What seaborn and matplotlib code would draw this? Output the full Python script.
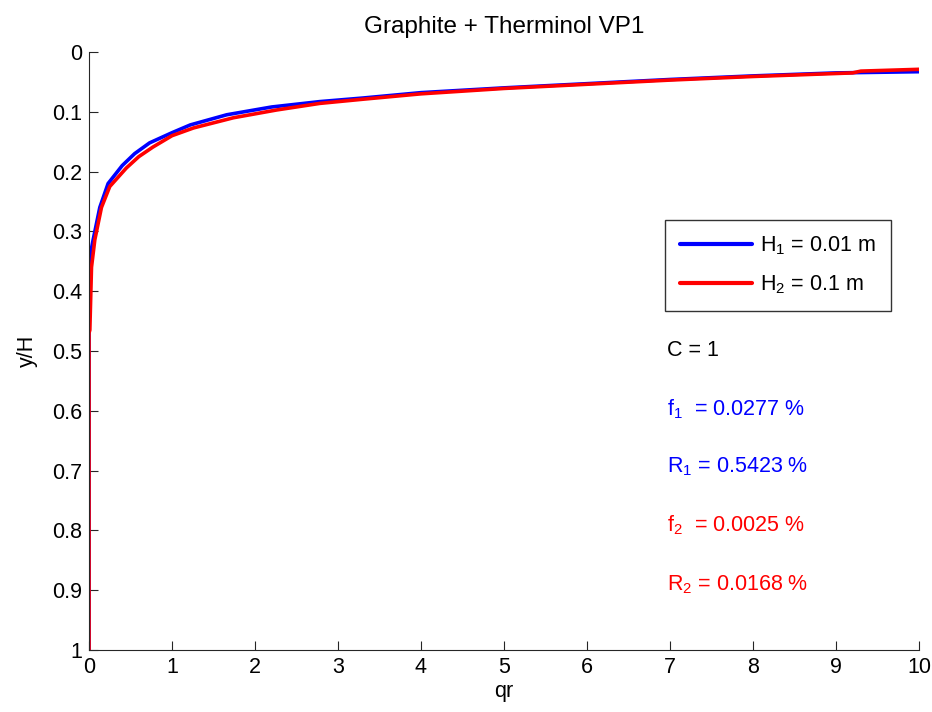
import matplotlib
matplotlib.use("Agg")
import matplotlib.pyplot as plt
import seaborn as sns
import pandas as pd

# Data
qr_h1 = [0, 0, 0.01, 0.05, 0.13, 0.23, 0.40, 0.55, 0.73, 1.0, 1.22, 1.66, 2.2, 2.78,
         3.3, 4.0, 5.0, 6.0, 7.0, 8.0, 9.0, 10.0]
y_h1 = [1, 0.39, 0.343, 0.314, 0.26, 0.22, 0.19, 0.17, 0.152, 0.135, 0.122, 0.105, 0.092,
        0.083, 0.077, 0.068, 0.060, 0.053, 0.046, 0.040, 0.035, 0.033]
qr_h2 = [0, 0, 0.01, 0.03, 0.07, 0.15, 0.25, 0.45, 0.6, 0.77, 1.0, 1.26, 1.74, 2.26,
         2.78, 3.3, 4.0, 5.0, 6.0, 7.0, 8.0, 9.2, 9.3, 10.0]
y_h2 = [1, 0.47, 0.465, 0.36, 0.314, 0.26, 0.225, 0.194, 0.175, 0.159, 0.14, 0.127,
        0.110, 0.097, 0.086, 0.079, 0.070, 0.061, 0.054, 0.047, 0.041, 0.035, 0.032, 0.029]
series_labels = [r"H$_1$ = 0.01 m", r"H$_2$ = 0.1 m"]
series_colors = ["#0000ff", "#ff0000"]
x_ticks = list(range(0, 11))
y_ticks = [0, 0.1, 0.2, 0.3, 0.4, 0.5, 0.6, 0.7, 0.8, 0.9, 1]
y_tick_labels = ["0", "0.1", "0.2", "0.3", "0.4", "0.5", "0.6", "0.7", "0.8", "0.9", "1"]
annotations = [("C = 1", "black"),
               (r"f$_1$  = 0.0277 %", "#0000ff"),
               (r"R$_1$ = 0.5423 %", "#0000ff"),
               (r"f$_2$  = 0.0025 %", "#ff0000"),
               (r"R$_2$ = 0.0168 %", "#ff0000")]
annotation_y = [0.5, 0.597, 0.694, 0.792, 0.89]

FS = 15.5

sns.set_style("white")
plt.rcParams["font.family"] = ["Liberation Sans", "DejaVu Sans"]
plt.rcParams["mathtext.fontset"] = "custom"
plt.rcParams["mathtext.rm"] = "Liberation Sans"
plt.rcParams["mathtext.it"] = "Liberation Sans"
plt.rcParams["text.color"] = "black"
plt.rcParams["axes.labelcolor"] = "black"
plt.rcParams["xtick.color"] = "black"
plt.rcParams["ytick.color"] = "black"

df = pd.concat([
    pd.DataFrame({"qr": qr_h1, "y": y_h1, "series": series_labels[0]}),
    pd.DataFrame({"qr": qr_h2, "y": y_h2, "series": series_labels[1]}),
], ignore_index=True)

fig = plt.figure(figsize=(9.32, 7.12), dpi=100)
ax = fig.add_axes([0.0955, 0.0871, 0.8905, 0.8399])

sns.lineplot(data=df, x="qr", y="y", hue="series", palette=series_colors,
             estimator=None, sort=False, units="series", linewidth=2.6, ax=ax,
             legend=True)

ax.set_xlim(0, 10)
ax.set_ylim(1, 0)
ax.set_xticks(x_ticks)
ax.set_yticks(y_ticks)
ax.set_yticklabels(y_tick_labels)
ax.tick_params(direction="in", length=6.5, width=0.8, colors="#262626",
               labelcolor="black", labelsize=FS, pad=5, bottom=True, left=True)
for s in ["top", "right"]:
    ax.spines[s].set_visible(False)
for s in ["left", "bottom"]:
    ax.spines[s].set_color("#262626")
    ax.spines[s].set_linewidth(0.8)
ax.set_xlabel("qr", fontsize=FS, labelpad=2)
ax.set_ylabel("y/H", fontsize=FS, labelpad=10)
ax.set_title("Graphite + Therminol VP1", fontsize=17.5, pad=14)

leg = ax.legend(loc="upper left", bbox_to_anchor=(0.694, 0.719), fontsize=FS,
                handlelength=3.35, handletextpad=0.4, frameon=True, fancybox=False,
                edgecolor="black", borderpad=0.68, labelspacing=0.75, title=None,
                borderaxespad=0)
leg.get_frame().set_linewidth(1.0)
for line in leg.get_lines():
    line.set_linewidth(3)

for (txt, col), yy in zip(annotations, annotation_y):
    ax.text(6.97, yy, txt, color=col, fontsize=FS, ha="left", va="center")

fig.savefig("out.png", dpi=100)
